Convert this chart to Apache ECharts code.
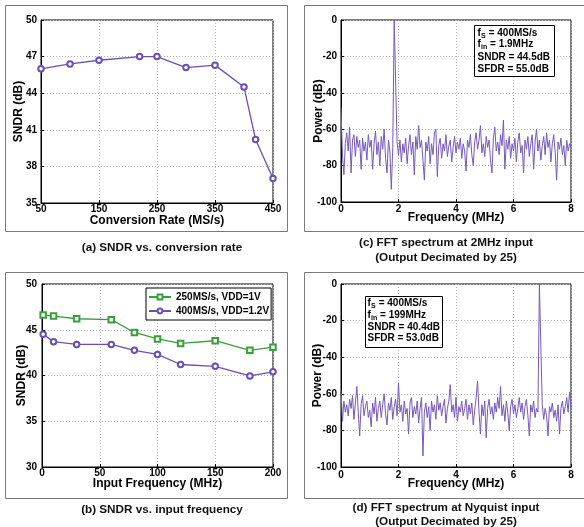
<!DOCTYPE html>
<html>
<head>
<meta charset="utf-8">
<script src="https://cdn.jsdelivr.net/npm/echarts@6/dist/echarts.min.js"></script>
<style>
html,body{margin:0;padding:0;background:#fff;}
#c{width:584px;height:527px;}
</style>
</head>
<body>
<div id="c"></div>
<script>
// (a) SNDR vs conversion rate
var rateX = [50, 100, 150, 220, 250, 300, 350, 400, 420, 450];
var rateSNDR = [46.0, 46.4, 46.7, 47.0, 47.0, 46.1, 46.3, 44.5, 40.2, 37.0];

// (b) SNDR vs input frequency
var finX = [1, 10, 30, 60, 80, 100, 120, 150, 180, 200];
var sndr250 = [46.6, 46.5, 46.2, 46.1, 44.7, 44.0, 43.5, 43.8, 42.75, 43.1];
var sndr400 = [44.5, 43.7, 43.4, 43.4, 42.75, 42.3, 41.2, 41.0, 39.95, 40.4];
var legendNames = ['250MS/s, VDD=1V', '400MS/s, VDD=1.2V'];

// FFT spectra, bins every 0.05 MHz from 0 to 8 MHz
var binStep = 0.05;
var fftC = [
 -48,-74,-85,-68,-62,-72,-59,-84,-66,-63,
 -75,-64,-70,-66,-82,-65,-72,-67,-77,-63,
 -70,-66,-82,-68,-61,-74,-67,-80,-64,-71,
 -60,-76,-84,-66,-72,-93,-70,0,-1,-67,
 -74,-66,-78,-68,-73,-65,-79,-69,-63,-74,
 -67,-85,-64,-71,-58,-70,-66,-77,-88,-67,
 -72,-64,-79,-68,-74,-62,-60,-86,-69,-65,
 -76,-68,-72,-63,-75,-69,-66,-78,-70,-64,
 -73,-67,-71,-65,-76,-68,-72,-83,-66,-70,
 -63,-74,-80,-67,-62,-71,-66,-58,-73,-68,
 -75,-64,-70,-66,-77,-84,-65,-59,-72,-67,
 -74,-63,-69,-55,-82,-66,-71,-64,-76,-68,
 -72,-65,-78,-67,-62,-73,-69,-84,-66,-71,
 -64,-75,-68,-63,-82,-67,-60,-72,-66,-77,
 -69,-64,-74,-62,-70,-66,-78,-68,-63,-73,
 -88,-67,-71,-65,-74,-69,-80,-66,-72,-68,
 -70
];
var fftD = [
 -58,-75,-64,-70,-66,-72,-63,-68,-61,-74,
 -65,-56,-70,-83,-66,-61,-72,-67,-64,-73,
 -69,-78,-65,-71,-62,-75,-68,-64,-73,-66,
 -60,-71,-77,-65,-69,-62,-74,-67,-63,-72,
 -54,-70,-66,-75,-64,-71,-68,-82,-65,-62,
 -73,-67,-71,-64,-76,-68,-62,-94,-70,-65,
 -73,-67,-80,-64,-70,-66,-74,-61,-69,-65,
 -72,-67,-63,-76,-68,-64,-55,-70,-66,-73,
 -62,-75,-67,-70,-64,-72,-68,-63,-74,-66,
 -71,-65,-77,-69,-62,-53,-70,-82,-66,-72,
 -64,-84,-68,-63,-71,-67,-74,-65,-70,-62,
 -68,-56,-72,-66,-75,-64,-70,-80,-67,-63,
 -71,-66,-73,-68,-62,-70,-65,-74,-67,-63,
 -72,-83,-66,-70,-64,-73,-68,-70,0,0,
 -66,-74,-68,-72,-83,-67,-70,-65,-73,-69,
 -75,-66,-82,-68,-64,-71,-67,-62,-70,-59,
 -68
];

// info box texts
var infoC = {fs: '400MS/s', fin: '1.9MHz', sndr: '44.5dB', sfdr: '55.0dB'};
var infoD = {fs: '400MS/s', fin: '199MHz', sndr: '40.4dB', sfdr: '53.0dB'};

var FONT = 'Liberation Sans, Arial, sans-serif';
var PURPLE = '#6a4fb4';
var GREEN = '#3a9e3a';
var FFTCOL = '#7659bd';

function pairs(xs, ys) { return ys.map(function (v, i) { return [xs[i], v]; }); }
function binPairs(ys) { return ys.map(function (v, i) { return [+(i * binStep).toFixed(2), v]; }); }

var grids = [
  {left: 41, top: 20, width: 232, height: 183},
  {left: 341, top: 20, width: 230, height: 182},
  {left: 42, top: 284, width: 231, height: 183},
  {left: 341, top: 284, width: 230, height: 183}
].map(function (g) {
  g.show = true; g.borderColor = '#000'; g.borderWidth = 1; g.backgroundColor = '#fff';
  g.containLabel = false; return g;
});

function baseAx(idx, min, max, interval, name, gap, margin) {
  return {
    type: 'value', gridIndex: idx, min: min, max: max, interval: interval,
    name: name, nameLocation: 'middle', nameGap: gap, nameMoveOverlap: false,
    nameTextStyle: {fontFamily: FONT, fontWeight: 'bold', fontSize: 12, color: '#000'},
    axisLine: {show: true, onZero: false, lineStyle: {color: '#000', width: 1}},
    axisTick: {show: true, inside: true, length: 3, lineStyle: {color: '#000'}},
    axisLabel: {fontFamily: FONT, fontWeight: 'bold', fontSize: 10, color: '#000', margin: margin, showMinLabel: true, showMaxLabel: true, hideOverlap: false},
    splitLine: {show: true, lineStyle: {color: '#b4b4b4', type: [1, 2], width: 1}}
  };
}
function xAx(idx, min, max, interval, name, gap, margin) {
  return baseAx(idx, min, max, interval, name, gap, margin);
}
function yAx(idx, min, max, interval, name, gap, margin) {
  var a = baseAx(idx, min, max, interval, name, gap, margin);
  a.nameRotate = 90;
  return a;
}

function txt(x, y, s, size) {
  return {type: 'text', x: x, y: y, style: {text: s, fontFamily: FONT, fontWeight: 'bold', fontSize: size, fill: '#000', align: 'left', verticalAlign: 'middle'}};
}
function subLine(x, y, sub, subW, rest) {
  return [
    txt(x, y, 'f', 10),
    txt(x + 3.6, y + 3, sub, 7),
    txt(x + 3.6 + subW, y, rest, 10)
  ];
}
function infoBox(bx, by, w, h, tx, ys, info) {
  var els = [{type: 'rect', shape: {x: bx + 0.5, y: by + 0.5, width: w, height: h}, style: {fill: '#fff', stroke: '#000', lineWidth: 1}}];
  els = els.concat(subLine(tx, ys[0], 'S', 4.8, ' = ' + info.fs));
  els = els.concat(subLine(tx, ys[1], 'in', 6.2, ' = ' + info.fin));
  els.push(txt(tx, ys[2], 'SNDR = ' + info.sndr, 10));
  els.push(txt(tx, ys[3], 'SFDR = ' + info.sfdr, 10));
  els.forEach(function (e) { e.z = 11; });
  els[0].z = 10;
  return els;
}

function frame(x, y, w, h) {
  return {type: 'rect', shape: {x: x, y: y, width: w, height: h}, style: {fill: null, stroke: '#7a7a7a', lineWidth: 1}, z: -1};
}
function caption(cx, cy, s) {
  return {type: 'text', x: cx, y: cy, style: {text: s, fontFamily: FONT, fontWeight: 'bold', fontSize: 11.7, fill: '#111', align: 'center', verticalAlign: 'middle'}};
}

var graphics = [
  frame(5.5, 5.5, 282, 226),
  frame(304.5, 5.5, 290, 226),
  frame(5.5, 272.5, 282, 226),
  frame(304.5, 272.5, 290, 226),
  caption(162, 248, '(a) SNDR vs. conversion rate'),
  caption(446, 242.5, '(c) FFT spectrum at 2MHz input'),
  caption(446, 257.5, '(Output Decimated by 25)'),
  caption(162, 510, '(b) SNDR vs. input frequency'),
  caption(446, 507.5, '(d) FFT spectrum at Nyquist input'),
  caption(446, 521.5, '(Output Decimated by 25)')
].concat(
  infoBox(474, 25, 80, 51, 477.5, [33.5, 44.5, 57, 69], infoC),
  infoBox(365, 296, 77, 51, 367.5, [303.5, 315, 327, 338.5], infoD)
);

var option = {
  animation: false,
  backgroundColor: '#fff',
  grid: grids,
  legend: {
    data: legendNames, left: 146, top: 288, orient: 'vertical',
    padding: [4, 2, 4, 2], itemGap: 4, itemWidth: 22, itemHeight: 6,
    borderColor: '#000', borderWidth: 1, backgroundColor: '#fff', borderRadius: 0,
    textStyle: {fontFamily: FONT, fontWeight: 'bold', fontSize: 10, color: '#000'}
  },
  xAxis: [
    xAx(0, 50, 450, 100, 'Conversion Rate (MS/s)', 12, 1),
    xAx(1, 0, 8, 2, 'Frequency (MHz)', 10, 2),
    xAx(2, 0, 200, 50, 'Input Frequency (MHz)', 11, 1),
    xAx(3, 0, 8, 2, 'Frequency (MHz)', 11, 3)
  ],
  yAxis: [
    yAx(0, 35, 50, 3, 'SNDR (dB)', 16, 4),
    yAx(1, -100, 0, 20, 'Power (dB)', 16, 4),
    yAx(2, 30, 50, 5, 'SNDR (dB)', 14, 5),
    yAx(3, -100, 0, 20, 'Power (dB)', 17, 4)
  ],
  series: [
    {type: 'line', xAxisIndex: 0, yAxisIndex: 0, data: pairs(rateX, rateSNDR),
     symbol: 'emptyCircle', symbolSize: 5.5, lineStyle: {color: PURPLE, width: 1.3},
     itemStyle: {color: PURPLE, borderWidth: 1.2}},
    {type: 'line', xAxisIndex: 1, yAxisIndex: 1, data: binPairs(fftC), showSymbol: false,
     lineStyle: {color: FFTCOL, width: 1}, itemStyle: {color: FFTCOL}},
    {type: 'line', name: legendNames[0], xAxisIndex: 2, yAxisIndex: 2, data: pairs(finX, sndr250),
     symbol: 'emptyRect', symbolSize: 5.5, lineStyle: {color: GREEN, width: 1.3},
     itemStyle: {color: GREEN, borderWidth: 1.2}},
    {type: 'line', name: legendNames[1], xAxisIndex: 2, yAxisIndex: 2, data: pairs(finX, sndr400),
     symbol: 'emptyCircle', symbolSize: 5.5, lineStyle: {color: PURPLE, width: 1.3},
     itemStyle: {color: PURPLE, borderWidth: 1.2}},
    {type: 'line', xAxisIndex: 3, yAxisIndex: 3, data: binPairs(fftD), showSymbol: false,
     lineStyle: {color: FFTCOL, width: 1}, itemStyle: {color: FFTCOL}}
  ],
  graphic: graphics
};

var chart = echarts.init(document.getElementById('c'), null, {renderer: 'canvas'});
chart.setOption(option);
</script>
</body>
</html>
